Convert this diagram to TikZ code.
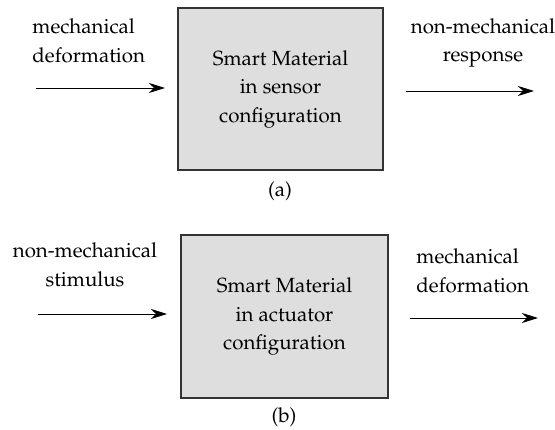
\documentclass[tikz,border=0pt]{standalone}
\usepackage[T1]{fontenc}
\usepackage{mathpazo}
\usetikzlibrary{arrows.meta,positioning}

\begin{document}
\begin{tikzpicture}[x=1pt,y=1pt,->,>={Stealth[length=16pt,width=10pt,inset=5pt]},line width=0.9pt,
    font=\fontsize{20.5}{28.5}\selectfont]
  \tikzstyle{material}=[draw=black!80,line width=2pt,fill=black!13,align=center,
                        minimum width=205pt,minimum height=162pt,inner sep=0pt]
  \tikzstyle{label}=[inner sep=0pt]
  \useasboundingbox (0,0) rectangle (555,430);

  % (a) sensor
  \node[material]               (sensor) at (280.5,341) {Smart Material\\in sensor\\configuration};
  \node[label]                  (capA)   at (280,239)   {(a)};
  \node[label,align=left,anchor=west]  (mdA) at (32,389) {mechanical\\deformation};
  \node[label,align=center]     (nmA)    at (483,387)   {non-mechanical\\response};
  \coordinate (inA)  at (36,342);
  \coordinate (outA) at (534,339);

  % (b) actuator
  \node[material,minimum width=207pt,minimum height=163pt]
                                (actuator) at (284.5,113.5) {Smart Material\\in actuator\\configuration};
  \node[label]                  (capB)   at (284,13)    {(b)};
  \node[label,align=center]     (nmB)    at (85,165)    {non-mechanical\\stimulus};
  \node[label,align=left,anchor=west]  (mdB) at (416,159) {mechanical\\deformation};
  \coordinate (inB)  at (38,116);
  \coordinate (outB) at (538,112);

  \draw[shorten >=12pt] (inA) -- (inA -| sensor.west);
  \draw[shorten <=22pt] (outA -| sensor.east) -- (outA);
  \draw[shorten >=13pt] (inB) -- (inB -| actuator.west);
  \draw[shorten <=21pt] (outB -| actuator.east) -- (outB);
\end{tikzpicture}
\end{document}
